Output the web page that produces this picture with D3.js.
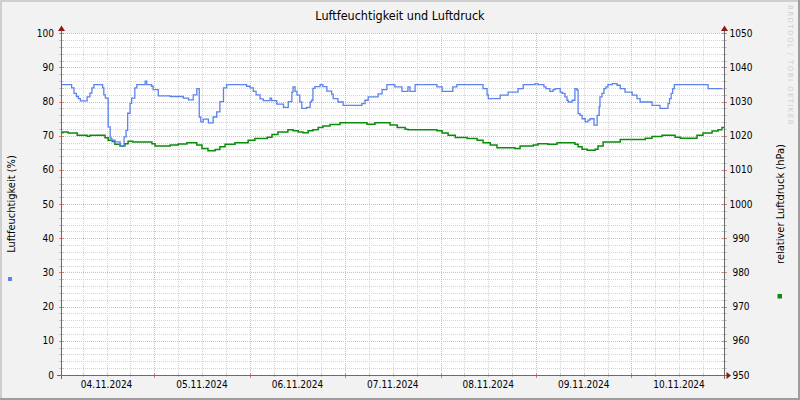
<!DOCTYPE html>
<html>
<head>
<meta charset="utf-8">
<script src="https://cdn.jsdelivr.net/npm/d3@7"></script>
<style>
  body { margin: 0; background: #f2f2f2; }
  svg text { font-family: "DejaVu Sans Condensed", "DejaVu Sans", sans-serif; font-stretch: condensed; }
</style>
</head>
<body>
<script>
// hours since 04.11.2024 00:00
const humHours = [
  0.5, 3.2, 3.8, 4.4, 4.9, 5.4, 7.1, 7.8, 8.3, 8.8,
  11.0, 11.3, 11.7, 12.4, 12.9, 13.3, 14.1, 15.4, 16.4, 16.9,
  17.3, 17.9, 18.3, 19.1, 19.6, 21.7, 22.1, 23.3, 23.7, 25.0,
  28.0, 31.3, 32.6, 33.8, 34.7, 35.3, 35.7, 36.3, 37.6, 38.8,
  39.7, 40.5, 41.4, 42.2, 47.2, 48.1, 48.9, 49.6, 50.6, 51.4,
  53.1, 53.5, 54.8, 56.5, 57.7, 58.6, 58.9, 59.4, 59.9, 60.6,
  61.1, 62.3, 63.2, 63.6, 63.9, 64.4, 65.7, 66.4, 67.4, 68.6,
  69.0, 70.2, 71.5, 76.2, 77.0, 77.8, 80.3, 81.3, 82.5, 84.5,
  86.3, 87.8, 88.3, 89.6, 95.1, 96.4, 99.1, 100.1, 106.7, 107.7,
  108.0, 111.0, 113.0, 115.5, 116.8, 119.8, 120.5, 122.0, 122.5, 123.5,
  124.3, 124.8, 126.1, 126.6, 127.3, 127.8, 128.1, 129.1, 129.8, 130.3,
  130.6, 131.1, 131.6, 132.4, 133.1, 133.6, 134.6, 135.4, 135.9, 136.1,
  136.6, 137.1, 137.6, 138.1, 139.2, 140.4, 141.2, 142.4, 144.2, 145.4,
  146.2, 149.2, 151.2, 153.2, 153.6, 154.0, 154.4, 154.8, 163.3
];
const humidity = [
  85, 84, 82.4, 81.5, 80.9, 80.2, 81.4, 82.5, 84, 85,
  84, 82, 81, 72.6, 69.3, 68.7, 68.2, 67, 69.7, 71.6,
  76.6, 79.5, 81, 84, 85, 86, 85, 84.5, 83.5, 81.7,
  81.5, 81, 80.5, 82, 83.8, 75.5, 74.1, 74.9, 73.8, 75.5,
  77, 80, 84, 85, 84.5, 84, 83, 82, 80.8, 80.3,
  81, 80.3, 79.3, 78.3, 80, 82.8, 84.3, 83, 81.9, 79.9,
  78, 78.3, 79.9, 80.4, 83.9, 84.4, 85, 84.4, 83.1, 82.2,
  80.9, 79.9, 78.9, 79.4, 80.4, 81.4, 82.3, 83.5, 85, 84.3,
  83.0, 84.3, 83.0, 85, 84.3, 83.0, 84.3, 85, 83.8, 82,
  80.9, 81.9, 82.8, 83.8, 85, 85.3, 85, 84.3, 83.8, 83.0,
  83.5, 83.8, 82.8, 82.4, 81.4, 80.4, 79.9, 80.4, 83.8, 83.4,
  76.5, 76.0, 75.0, 74.1, 74.6, 75.0, 73.1, 76.0, 78.5, 81.4,
  82.4, 83.8, 84.3, 85, 85.3, 84.8, 83.8, 82.8, 81.9, 80.9,
  79.9, 78.9, 78.0, 79.4, 80.9, 82.4, 83.8, 85, 83.8
];

const presHours = [
  0.5, 1.0, 2.3, 4.6, 7.1, 7.8, 11.6, 12.4, 13.4, 14.1,
  15.4, 16.6, 17.4, 18.6, 23.4, 24.2, 28.0, 30.0, 32.2, 34.7,
  36.0, 37.5, 39.3, 40.5, 41.8, 44.3, 47.6, 49.3, 52.4, 53.6,
  55.1, 57.6, 58.9, 60.2, 61.4, 62.7, 63.9, 65.2, 66.4, 68.2,
  70.7, 77.5, 79.5, 83.3, 85.1, 87.1, 87.8, 95.1, 96.4, 97.9,
  99.7, 102.7, 105.2, 106.7, 108.5, 110.2, 114.7, 116.0, 119.3, 120.5,
  123.0, 125.3, 129.8, 130.6, 131.6, 132.9, 134.9, 135.6, 136.9, 141.2,
  147.5, 149.2, 151.7, 155.0, 156.3, 160.5, 162.0, 164.3, 165.8, 166.8
];
const pressure = [
  1020.9, 1021.1, 1020.8, 1020.2, 1019.9, 1020.2, 1019.4, 1018.7, 1018.3, 1017.5,
  1017.0, 1017.7, 1018.4, 1018.2, 1017.7, 1017.0, 1017.3, 1017.6, 1018.0, 1017.3,
  1016.3, 1015.6, 1016.0, 1016.8, 1017.5, 1018.0, 1018.7, 1019.2, 1019.6, 1020.4,
  1021.1, 1021.8, 1021.5, 1021.1, 1020.9, 1021.5, 1021.8, 1022.4, 1022.9, 1023.3,
  1023.8, 1023.4, 1023.8, 1023.2, 1022.4, 1021.9, 1021.8, 1021.5, 1020.8, 1020.2,
  1019.5, 1019.2, 1018.7, 1018.0, 1017.3, 1016.5, 1016.3, 1017.0, 1017.3, 1017.7,
  1017.5, 1018.0, 1017.5, 1016.8, 1016.1, 1015.8, 1016.1, 1017.0, 1018.2, 1018.9,
  1019.3, 1019.8, 1020.2, 1019.6, 1019.3, 1020.2, 1020.8, 1021.4, 1021.8, 1022.4
];

const startHour = 0.53, endHour = 167.3;
const humDomain = [0, 100], presDomain = [950, 1050];
const title = "Luftfeuchtigkeit und Luftdruck";
const leftLabel = "Luftfeuchtigkeit (%)";
const rightLabel = "relativer Luftdruck (hPa)";

const W = 800, H = 400;
const plotL = 61, plotR = 724, plotT = 33.3, plotB = 375;
const base = new Date(2024, 10, 4, 0, 0).getTime();
const toDate = h => new Date(base + h * 3600e3);

const svg = d3.select("body").append("svg")
  .attr("width", W).attr("height", H);

// background + frame
svg.append("rect").attr("width", W).attr("height", H).attr("fill", "#f2f2f2");
svg.append("rect").attr("x", 0).attr("y", 0).attr("width", W).attr("height", 2).attr("fill", "#cfcfcf");
svg.append("rect").attr("x", 0).attr("y", 0).attr("width", 2).attr("height", H).attr("fill", "#cfcfcf");
svg.append("rect").attr("x", 0).attr("y", H - 2).attr("width", W).attr("height", 2).attr("fill", "#9e9e9e");
svg.append("rect").attr("x", W - 2).attr("y", 0).attr("width", 2).attr("height", H).attr("fill", "#9e9e9e");

const x = d3.scaleTime().domain([toDate(startHour), toDate(endHour)]).range([plotL, plotR]);
const yL = d3.scaleLinear().domain(humDomain).range([plotB, plotT]);
const yR = d3.scaleLinear().domain(presDomain).range([plotB, plotT]);

svg.append("rect").attr("x", plotL).attr("y", plotT).attr("width", plotR - plotL).attr("height", plotB - plotT)
  .attr("fill", "#ffffff");

const grid = svg.append("g").attr("shape-rendering", "crispEdges").attr("stroke-dasharray", "1,1");
const px = v => Math.round(v) + 0.5;

const minorY = d3.range(0, 101, 2).filter(d => d % 10 !== 0);
const majorY = d3.range(0, 101, 10);
const minorX = x.ticks(d3.timeHour.every(6)).filter(d => d.getHours() !== 0);
const majorX = x.ticks(d3.timeDay.every(1));

grid.selectAll(".mny").data(minorY).enter().append("line")
  .attr("x1", plotL).attr("x2", plotR)
  .attr("y1", d => px(yL(d))).attr("y2", d => px(yL(d)))
  .attr("stroke", "#d5d5d5");
grid.selectAll(".mnx").data(minorX).enter().append("line")
  .attr("y1", plotT).attr("y2", plotB)
  .attr("x1", d => px(x(d))).attr("x2", d => px(x(d)))
  .attr("stroke", "#d5d5d5");
grid.selectAll(".mjy").data(majorY).enter().append("line")
  .attr("x1", plotL).attr("x2", plotR)
  .attr("y1", d => px(yL(d))).attr("y2", d => px(yL(d)))
  .attr("stroke", "#ebb0b0");
grid.selectAll(".mjx").data(majorX).enter().append("line")
  .attr("y1", plotT).attr("y2", plotB)
  .attr("x1", d => px(x(d))).attr("x2", d => px(x(d)))
  .attr("stroke", "#ebb0b0");

// data lines
const humData = humHours.map((h, i) => [toDate(h), humidity[i]]);
humData.push([toDate(endHour), humidity[humidity.length - 1]]);
const presData = presHours.map((h, i) => [toDate(h), pressure[i]]);
presData.push([toDate(endHour), pressure[pressure.length - 1]]);

const lineL = d3.line().curve(d3.curveStepAfter)
  .x(d => x(d[0])).y(d => yL(d[1]));
const lineR = d3.line().curve(d3.curveStepAfter)
  .x(d => x(d[0])).y(d => yR(d[1]));

svg.append("path").datum(presData).attr("d", lineR)
  .attr("fill", "none").attr("stroke", "#0c8c0c").attr("stroke-width", 1.5);
svg.append("path").datum(humData).attr("d", lineL)
  .attr("fill", "none").attr("stroke", "#5b82ee").attr("stroke-width", 1.3);

// ticks on axes
const ticks = svg.append("g").attr("shape-rendering", "crispEdges");
[plotL, plotR].forEach(ax => {
  ticks.selectAll(null).data(minorY).enter().append("line")
    .attr("x1", ax - 2).attr("x2", ax + 3)
    .attr("y1", d => px(yL(d))).attr("y2", d => px(yL(d)))
    .attr("stroke", "#c4c4c4");
  ticks.selectAll(null).data(majorY).enter().append("line")
    .attr("x1", ax - 2).attr("x2", ax + 3)
    .attr("y1", d => px(yL(d))).attr("y2", d => px(yL(d)))
    .attr("stroke", "#d88080");
});
ticks.selectAll(null).data(minorX).enter().append("line")
  .attr("y1", plotB - 2).attr("y2", plotB + 2)
  .attr("x1", d => px(x(d))).attr("x2", d => px(x(d)))
  .attr("stroke", "#c4c4c4");
ticks.selectAll(null).data(majorX).enter().append("line")
  .attr("y1", plotB - 2).attr("y2", plotB + 3)
  .attr("x1", d => px(x(d))).attr("x2", d => px(x(d)))
  .attr("stroke", "#d88080");

// axes
const axisColor = "#6a6a6a", arrowColor = "#8b1a1a";
const axes = svg.append("g").attr("shape-rendering", "crispEdges").attr("stroke", axisColor);
axes.append("line").attr("x1", px(plotL)).attr("x2", px(plotL)).attr("y1", 29).attr("y2", plotB + 4);
axes.append("line").attr("x1", px(plotR)).attr("x2", px(plotR)).attr("y1", 29).attr("y2", plotB + 4);
axes.append("line").attr("x1", plotL - 4).attr("x2", plotR + 4).attr("y1", px(plotB)).attr("y2", px(plotB));

[plotL, plotR].forEach(ax => {
  svg.append("path")
    .attr("d", `M${px(ax)},25.5 L${px(ax) - 3.5},31 L${px(ax) + 3.5},31 Z`)
    .attr("fill", arrowColor);
});
svg.append("path")
  .attr("d", `M${plotR + 7},${px(plotB)} L${plotR + 2.5},${px(plotB) - 3.5} L${plotR + 2.5},${px(plotB) + 3.5} Z`)
  .attr("fill", arrowColor);

// tick labels
const lab = svg.append("g").attr("font-size", 10).attr("fill", "#000");
lab.selectAll(".yl").data(majorY).enter().append("text")
  .attr("x", 54).attr("y", d => yL(d)).attr("dy", "0.35em")
  .attr("text-anchor", "end").text(d => d);
const presTicks = d3.range(presDomain[0], presDomain[1] + 1, 10);
lab.selectAll(".yr").data(presTicks).enter().append("text")
  .attr("x", 741).attr("y", d => yR(d)).attr("dy", "0.35em")
  .attr("text-anchor", "middle").text(d => d);

const fmt = d3.timeFormat("%d.%m.%Y");
const dayLabels = d3.timeDay.range(d3.timeDay.floor(toDate(startHour)), toDate(endHour))
  .map(d => d3.timeHour.offset(d, 12))
  .filter(d => x(d) > plotL && x(d) < plotR);
lab.selectAll(".xl").data(dayLabels).enter().append("text")
  .attr("x", d => x(d)).attr("y", 387.5)
  .attr("text-anchor", "middle").text(d => fmt(d));

// title and axis titles
svg.append("text").attr("x", 400).attr("y", 19.5).attr("text-anchor", "middle")
  .attr("font-size", 12.5).attr("fill", "#000").text(title);
svg.append("text").attr("transform", "translate(15,204) rotate(-90)")
  .attr("text-anchor", "middle").attr("font-size", 11).attr("fill", "#000").text(leftLabel);
svg.append("text").attr("transform", "translate(784,204) rotate(-90)")
  .attr("text-anchor", "middle").attr("font-size", 11).attr("fill", "#000").text(rightLabel);

// legend markers
svg.append("rect").attr("x", 8).attr("y", 277).attr("width", 4).attr("height", 4).attr("fill", "#5b82ee");
svg.append("rect").attr("x", 777.5).attr("y", 294).attr("width", 4.5).attr("height", 4.5).attr("fill", "#0c8c0c");

// watermark
svg.append("text").attr("transform", "translate(788,5) rotate(90)")
  .style("font-family", "'DejaVu Sans', sans-serif").style("font-stretch", "normal")
  .attr("font-size", 7).attr("letter-spacing", 1.4).attr("fill", "#cdcdcd")
  .text("RRDTOOL / TOBI OETIKER");
</script>
</body>
</html>
